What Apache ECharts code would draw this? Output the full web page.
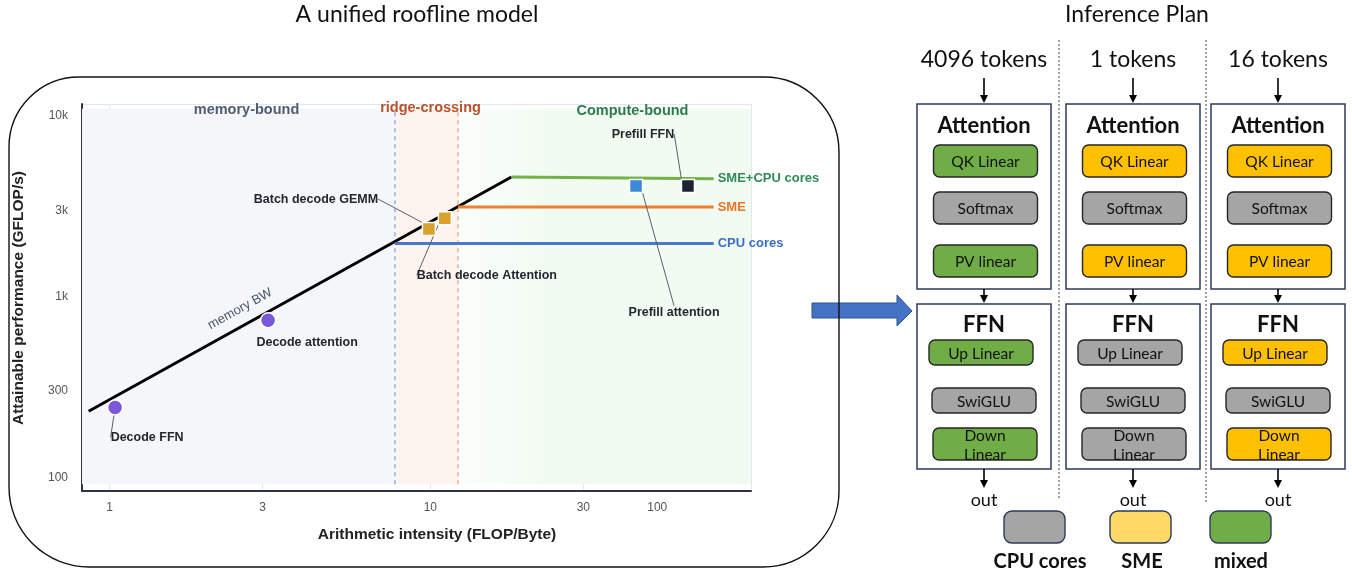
<!DOCTYPE html>
<html><head><meta charset="utf-8">
<script src="https://cdn.jsdelivr.net/npm/echarts@6/dist/echarts.min.js"></script>
<style>html,body{margin:0;padding:0;background:#fff}#c{width:1352px;height:573px}</style>
</head><body><div id="c"></div>
<script>
// ---------------- Roofline data ----------------
const roofNames      = ['CPU cores', 'SME', 'SME+CPU cores'];
const roofStartAI    = [7.76, 12.2, 17.9];
const roofEndAI      = [76.5, 76.5, 76.5];
const roofStartPerf  = [1690, 2690, 3945];
const roofEndPerf    = [1690, 2690, 3850];
const memBwAI        = [0.86, 17.9];
const memBwPerf      = [199, 3945];

const pointNames = ['Decode FFN', 'Decode attention', 'Batch decode GEMM', 'Batch decode Attention', 'Prefill attention', 'Prefill FFN'];
const pointAI    = [1.04, 3.12, 9.9, 11.1, 43.8, 63.6];
const pointPerf  = [209, 635, 2030, 2330, 3510, 3510];
const pointKind  = ['decode', 'decode', 'batch', 'batch', 'prefillAttn', 'prefillFFN'];

const regionNames  = ['memory-bound', 'ridge-crossing', 'Compute-bound'];
const regionEdges  = [0.82, 7.76, 12.2, 100];   // AI boundaries of the shaded regions
const shadePerf    = [78.5, 9400];              // vertical extent of shading

const xTickValues = [1, 3, 10, 30, 51];
const xTickLabels = ['1', '3', '10', '30', '100'];
const xGridValues = [1, 3, 10, 30, 100];
const yTickValues = [100, 300, 1000, 3000, 10000];
const yTickLabels = ['100', '300', '1k', '3k', '10k'];

// ---------------- Inference plan data ----------------
const planTokens = ['4096 tokens', '1 tokens', '16 tokens'];
const attnOps = ['QK Linear', 'Softmax', 'PV linear'];
const ffnOps  = ['Up Linear', 'SwiGLU', 'Down\nLinear'];
const planAttn = [['mixed', 'cpu', 'mixed'], ['sme', 'cpu', 'sme'], ['sme', 'cpu', 'sme']];
const planFfn  = [['mixed', 'cpu', 'mixed'], ['cpu', 'cpu', 'cpu'], ['sme', 'cpu', 'sme']];
const legendKeys  = ['cpu', 'sme', 'mixed'];
const legendNames = ['CPU cores', 'SME', 'mixed'];

// ---------------- styles ----------------
const F = "'Liberation Sans', Arial, Helvetica, sans-serif";
const D = "Lato, 'Open Sans', sans-serif";
const roofLineColors  = ['#4a78c8', '#f0802e', '#74b146'];
const roofLabelColors = ['#3b6fc6', '#ee7322', '#2f8a57'];
const kindStyle = {
  decode:      { color: '#7b57d9', symbol: 'circle', size: 15 },
  batch:       { color: '#d9a22c', symbol: 'rect',   size: 13 },
  prefillAttn: { color: '#3b88d9', symbol: 'rect',   size: 13 },
  prefillFFN:  { color: '#1c2331', symbol: 'rect',   size: 13 }
};
const labelOffsets = [[32, 30], [39, 22], [-113, -30], [42, 57], [38, 126], [-45, -52]];
const regionFill = ['#f4f6fa', '#fdf4f0', '#f3fbf3'];
const regionLabelColor = ['#505c70', '#b5522b', '#2e7b50'];
const regionLabelOffset = [[8, -11], [4, -13], [28, -10]];
const planFill = { cpu: '#A5A5A5', sme: '#FFC000', mixed: '#70AD47' };
const legendFill = { cpu: '#A5A5A5', sme: '#FFD966', mixed: '#70AD47' };

const chart = echarts.init(document.getElementById('c'), null, { renderer: 'canvas' });

function nearest(arr, v) {
  let best = 0, bd = Infinity;
  arr.forEach((a, i) => { const d = Math.abs(Math.log(a) - Math.log(v)); if (d < bd) { bd = d; best = i; } });
  return best;
}

// ---------------- series ----------------
const series = [];
// shading regions
series.push({
  type: 'line', z: -1, data: [], silent: true,
  markArea: {
    silent: true,
    data: regionNames.map((n, i) => [
      { name: n, coord: [regionEdges[i], shadePerf[0]], itemStyle: { opacity: 1, color: i === 2 ? {
          type: 'linear', x: 0, y: 0, x2: 1, y2: 0,
          colorStops: [{ offset: 0, color: '#fbfefb' }, { offset: 0.3, color: '#f2fbf2' }, { offset: 1, color: '#f2fbf2' }] } : regionFill[i] },
        label: { color: regionLabelColor[i], offset: regionLabelOffset[i] } },
      { coord: [regionEdges[i + 1], shadePerf[1]] }
    ]),
    label: { show: true, position: 'insideTop', fontFamily: F, fontWeight: 'bold', fontSize: 14.5 }
  }
});
// dashed ridge lines
[[1, '#7fa6dc'], [2, '#f2a277']].forEach(([ri, col]) => {
  series.push({
    type: 'line', z: 2, symbol: 'none', silent: true,
    data: [[regionEdges[ri], shadePerf[0]], [regionEdges[ri], shadePerf[1]]],
    lineStyle: { color: col, width: 1.3, type: [4, 4] }
  });
});
// memory BW roof
series.push({
  type: 'line', z: 3, symbol: 'none', silent: true,
  data: memBwAI.map((x, i) => [x, memBwPerf[i]]),
  lineStyle: { color: '#000', width: 3 }
});
// compute roofs
roofNames.forEach((n, i) => {
  series.push({
    type: 'line', name: n, z: 3 + i * 0.1, symbol: 'none', silent: true,
    data: [[roofStartAI[i], roofStartPerf[i]], [roofEndAI[i], roofEndPerf[i]]],
    lineStyle: { color: roofLineColors[i], width: 3 },
    endLabel: { show: true, formatter: n, color: roofLabelColors[i], fontFamily: F, fontWeight: 'bold', fontSize: 13, distance: 4 }
  });
});
// kernels
series.push({
  type: 'scatter', z: 6,
  data: pointNames.map((n, i) => {
    const k = kindStyle[pointKind[i]];
    return {
      name: n, value: [pointAI[i], pointPerf[i]], symbol: k.symbol, symbolSize: k.size,
      itemStyle: { color: k.color, borderColor: '#fff', borderWidth: 1.5, opacity: 1 },
      labelLine: { show: n !== 'Decode attention' }
    };
  }),
  itemStyle: { opacity: 1 },
  label: { show: true, position: 'inside', formatter: '{b}', color: '#23272f', fontFamily: F, fontWeight: 'bold', fontSize: 12.5, opacity: 1 },
  labelLine: { show: true, lineStyle: { color: '#5a606b', width: 1, opacity: 1 } },
  labelLayout: p => ({ dx: labelOffsets[p.dataIndex][0], dy: labelOffsets[p.dataIndex][1] })
});

// ---------------- graphic (frame, titles, inference plan) ----------------
const g = [];
function text(x, y, t, o) {
  g.push(Object.assign({ type: 'text', x: x, y: y, z: 10,
    style: Object.assign({ text: t, align: 'center', verticalAlign: 'middle', fill: '#111', fontFamily: D, fontSize: 14 }, o || {}) }));
}
function arrow(cx, y1, y2) {
  g.push({ type: 'line', z: 10, shape: { x1: cx, y1: y1, x2: cx, y2: y2 - 5 }, style: { stroke: '#000', lineWidth: 1.6 } });
  g.push({ type: 'polygon', z: 10, shape: { points: [[cx - 4, y2 - 8], [cx + 4, y2 - 8], [cx, y2]] }, style: { fill: '#000' } });
}
// blue transfer arrow
g.push({ type: 'polygon', z: 1, shape: { points: [[812, 303], [897, 303], [897, 295], [912, 311], [897, 326], [897, 318], [812, 318]] },
  style: { fill: '#4472C4', stroke: '#2F528F', lineWidth: 1 } });
// rounded frame around the roofline
g.push({ type: 'rect', z: 2, shape: { x: 9, y: 77, width: 830, height: 490, r: [70, 75, 76, 80] },
  style: { fill: 'none', stroke: '#111', lineWidth: 1.4 } });
// titles
text(417, 15, 'A unified roofline model', { fontSize: 23 });
text(1137, 15, 'Inference Plan', { fontSize: 23 });
// axis titles
text(437, 535, 'Arithmetic intensity (FLOP/Byte)', { fontFamily: F, fontWeight: 'bold', fontSize: 15.5, fill: '#222' });
g.push({ type: 'text', x: 18.5, y: 298, rotation: Math.PI / 2, z: 10,
  style: { text: 'Attainable performance (GFLOP/s)', align: 'center', verticalAlign: 'middle', fill: '#222', fontFamily: F, fontWeight: 'bold', fontSize: 15.5 } });
// memory BW label
g.push({ type: 'text', x: 240, y: 309, rotation: 0.505, z: 10,
  style: { text: 'memory BW', align: 'center', verticalAlign: 'middle', fill: '#4a5568', fontFamily: F, fontSize: 13 } });

// dotted separators
[[1059, 498], [1206, 503]].forEach(([x, yb]) => {
  g.push({ type: 'line', z: 5, shape: { x1: x, y1: 40, x2: x, y2: yb }, style: { stroke: '#444', lineWidth: 1, lineDash: [2, 2] } });
});

const colLeft = [917, 1066, 1211];
const colW = 134;
const attnTop = 104, attnH = 185, ffnTop = 304, ffnH = 165;
const attnRowY = [145, 192, 245], attnRowH = [32, 32, 32];
const ffnRowY = [340, 388, 428], ffnRowH = [25, 25, 32], ffnRowDx = [-3, 0, 1];
const innerW = 104;

planTokens.forEach((tok, c) => {
  const L = colLeft[c], cx = L + colW / 2;
  text(cx, 60, tok, { fontSize: 23 });
  arrow(cx, 78, attnTop - 1);
  g.push({ type: 'rect', z: 6, shape: { x: L, y: attnTop, width: colW, height: attnH }, style: { fill: '#fff', stroke: '#2c3a5a', lineWidth: 1.5 } });
  text(cx, 126, 'Attention', { fontWeight: 'bold', fontSize: 22 });
  attnOps.forEach((op, r) => {
    g.push({ type: 'rect', z: 7, shape: { x: cx - innerW / 2 + 1.5, y: attnRowY[r], width: innerW, height: attnRowH[r], r: 6 },
      style: { fill: planFill[planAttn[c][r]], stroke: '#262626', lineWidth: 1.4 } });
    text(cx + 1.5, attnRowY[r] + attnRowH[r] / 2 + 1, op, { fontSize: 15.5 });
  });
  arrow(cx, attnTop + attnH, ffnTop - 1);
  g.push({ type: 'rect', z: 6, shape: { x: L, y: ffnTop, width: colW, height: ffnH }, style: { fill: '#fff', stroke: '#2c3a5a', lineWidth: 1.5 } });
  text(cx, 325, 'FFN', { fontWeight: 'bold', fontSize: 22 });
  ffnOps.forEach((op, r) => {
    g.push({ type: 'rect', z: 7, shape: { x: cx - innerW / 2 + ffnRowDx[r], y: ffnRowY[r], width: innerW, height: ffnRowH[r], r: 6 },
      style: { fill: planFill[planFfn[c][r]], stroke: '#262626', lineWidth: 1.4 } });
    const multi = op.indexOf('\n') >= 0;
    text(cx + ffnRowDx[r], multi ? ffnRowY[r] + 17 : ffnRowY[r] + ffnRowH[r] / 2 + 1, op, { fontSize: 15.5, lineHeight: 19 });
  });
  arrow(cx, ffnTop + ffnH, 488);
  text(cx, 500, 'out', { fontSize: 18 });
});

// legend
const legX = [1004, 1110, 1210], legLabelX = [1040, 1142, 1241];
legendKeys.forEach((k, i) => {
  g.push({ type: 'rect', z: 7, shape: { x: legX[i], y: 511, width: 61, height: 32, r: 8 },
    style: { fill: legendFill[k], stroke: '#2c3a5a', lineWidth: 1.4 } });
  text(legLabelX[i], 562, legendNames[i], { fontWeight: 'bold', fontSize: 20 });
});

chart.setOption({
  animation: false,
  grid: { left: 82, right: 601, top: 104, bottom: 82 },
  xAxis: {
    type: 'log', logBase: 10, min: 0.82, max: 100,
    axisLine: { show: true, onZero: false, lineStyle: { color: '#2d3340', width: 2 } },
    axisTick: { show: false, customValues: xGridValues },
    splitLine: { show: true, lineStyle: { color: '#e2e7ee', width: 1 } },
    minorSplitLine: { show: false },
    axisLabel: { customValues: xTickValues, formatter: v => xTickLabels[nearest(xTickValues, v)], color: '#555', fontFamily: F, fontSize: 12, margin: 11 }
  },
  yAxis: {
    type: 'log', logBase: 10, min: 72, max: 10000,
    axisLine: { show: true, onZero: false, lineStyle: { color: '#2d3340', width: 2 } },
    axisTick: { show: false, customValues: yTickValues },
    splitLine: { show: true, lineStyle: { color: '#e2e7ee', width: 1 } },
    axisLabel: { customValues: yTickValues, formatter: v => yTickLabels[nearest(yTickValues, v)], color: '#555', fontFamily: F, fontSize: 12, margin: 14, verticalAlign: 'top', padding: [6, 0, 0, 0] }
  },
  series: series,
  graphic: g
});
</script>
</body></html>
